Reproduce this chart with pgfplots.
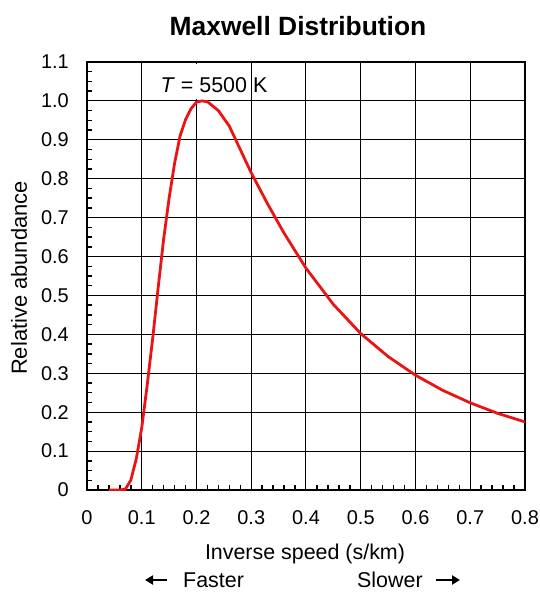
\documentclass[border=0pt]{standalone}
\usepackage{fontspec}
\setmainfont{Liberation Sans}
\usepackage{pgfplots}
\pgfplotsset{compat=1.18}
\usetikzlibrary{calc,arrows.meta}
\definecolor{curvered}{RGB}{235,20,20}
\begin{document}
\begin{tikzpicture}
\begin{axis}[name=ax, scale only axis, width=438bp, height=428bp,
  xmin=0, xmax=0.8, ymin=0, ymax=1.1,
  xtick={0,0.1,0.2,0.3,0.4,0.5,0.6,0.7,0.8},
  xticklabels={0,0.1,0.2,0.3,0.4,0.5,0.6,0.7,0.8},
  ytick={0,0.1,0.2,0.3,0.4,0.5,0.6,0.7,0.8,0.9,1.0,1.1},
  yticklabels={0,0.1,0.2,0.3,0.4,0.5,0.6,0.7,0.8,0.9,1.0,1.1},
  minor x tick num=4, minor y tick num=3,
  grid=major, major grid style={black, line width=1bp},
  axis line style={line width=2bp},
  tick align=inside, tick pos=left,
  major tick length=0pt, minor tick length=5.5bp,
  tick style={black, line width=1.5bp},
  /pgf/number format/assume math mode=true,
  tick label style={font=\fontsize{20}{24}\selectfont, inner sep=0pt},
  yticklabel style={xshift=-18bp},
  xticklabel style={yshift=-20bp},
]
\addplot[curvered, line width=2.8bp] coordinates {
(0.04,0) (0.05,0) (0.06,0) (0.07,0.002) (0.08,0.025) (0.09,0.08)
(0.10,0.16) (0.11,0.27) (0.12,0.39) (0.13,0.52) (0.14,0.645) (0.15,0.75)
(0.16,0.84) (0.17,0.91) (0.18,0.952) (0.19,0.98) (0.20,0.997) (0.21,1.0)
(0.22,0.998) (0.24,0.975) (0.26,0.935) (0.28,0.875) (0.30,0.815)
(0.33,0.735) (0.36,0.66) (0.40,0.57) (0.45,0.477) (0.50,0.402)
(0.55,0.343) (0.60,0.295) (0.65,0.256) (0.70,0.224) (0.75,0.197) (0.80,0.175)
};
\end{axis}
\coordinate (O) at ($(ax.south west)+(-87bp,490bp)$);
\node[anchor=base, font=\fontsize{26.5}{30}\selectfont\bfseries] at ($(O)+(298bp,-36bp)$) {Maxwell Distribution};
\fill[white] ($(O)+(157bp,-64bp)$) rectangle ($(O)+(250bp,-99bp)$);
\node[anchor=base, font=\fontsize{21.5}{26}\selectfont, inner sep=0pt] at ($(O)+(214bp,-93bp)$) {\textit{T} = 5500 K};
\node[rotate=90, anchor=base, font=\fontsize{22}{26}\selectfont, inner sep=0pt] at ($(O)+(27bp,-278bp)$) {Relative abundance};
\node[anchor=base, font=\fontsize{21.5}{26}\selectfont, inner sep=0pt] at ($(O)+(305bp,-559bp)$) {Inverse speed (s/km)};
\node[anchor=base west, font=\fontsize{21.5}{26}\selectfont, inner sep=0pt] at ($(O)+(183bp,-587bp)$) {Faster};
\node[anchor=base west, font=\fontsize{21.5}{26}\selectfont, inner sep=0pt] at ($(O)+(357bp,-587bp)$) {Slower};
\draw[line width=2.4bp, -{Triangle[length=8bp,width=9bp]}] ($(O)+(167bp,-580bp)$) -- ($(O)+(145bp,-580bp)$);
\draw[line width=2.4bp, -{Triangle[length=8bp,width=9bp]}] ($(O)+(436bp,-580bp)$) -- ($(O)+(460bp,-580bp)$);
\pgfresetboundingbox
\path ($(O)$) rectangle ($(O)+(540bp,-592bp)$);
\end{tikzpicture}
\end{document}
